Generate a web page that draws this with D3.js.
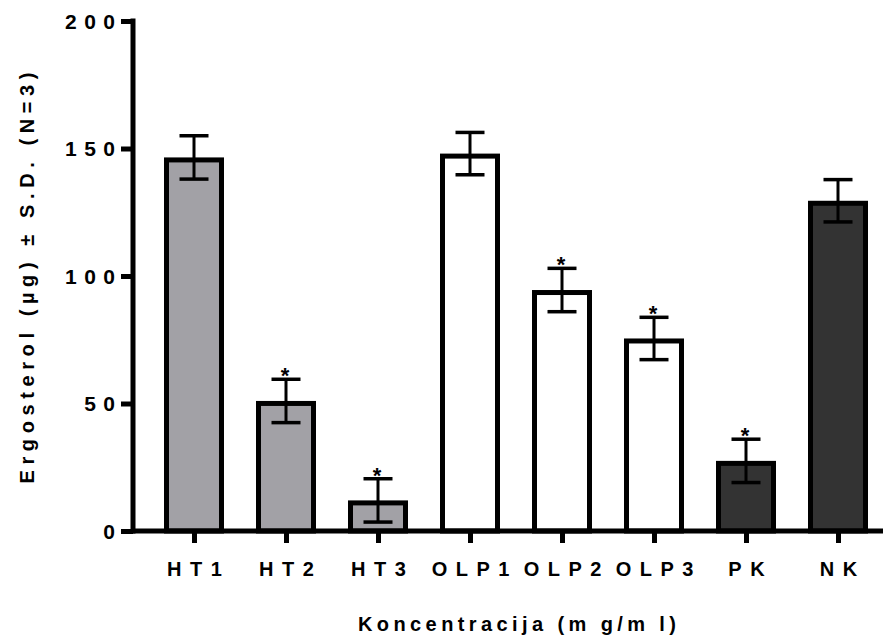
<!DOCTYPE html>
<html><head><meta charset="utf-8">
<script src="https://cdn.jsdelivr.net/npm/d3@7"></script>
<style>body{margin:0;background:#fff}svg text{font-family:"Liberation Sans",Arial,sans-serif;font-weight:bold;fill:#000}</style>
</head><body><svg id="c" width="894" height="639"></svg>
<script>
const categories = ["HT1","HT2","HT3","OLP1","OLP2","OLP3","PK","NK"];
const means = [146.5, 51, 12, 148, 94.5, 75.5, 27.5, 129.5];
const sds = [8.5, 8.5, 8.5, 8.3, 8.5, 8.3, 8.5, 8.3];
const significant = [false, true, true, false, true, true, true, false];
const groups = ["HT","HT","HT","OLP","OLP","OLP","K","K"];
const yTicks = [0, 50, 100, 150, 200];

const fills = {HT:"#a2a1a6", OLP:"#ffffff", K:"#333333"};
const svg = d3.select("#c");
const x = d3.scalePoint().domain(categories).range([194, 838]);
const y = d3.scaleLinear().domain([0, 200]).range([531, 21]);
const barW = 60, sw = 5, capW = 29;

// bars (border drawn inside the bar, as in GraphPad)
svg.selectAll("rect.bar").data(categories).join("rect")
  .attr("x", d => x(d) - barW/2 + sw/2)
  .attr("y", (d,i) => y(means[i]) + sw/2)
  .attr("width", barW - sw)
  .attr("height", (d,i) => y(0) - y(means[i]) - sw/2)
  .attr("fill", (d,i) => fills[groups[i]])
  .attr("stroke", "#000").attr("stroke-width", sw);

// error bars
const eb = svg.selectAll("g.eb").data(categories).join("g");
eb.append("line").attr("x1", d => x(d)).attr("x2", d => x(d))
  .attr("y1", (d,i) => y(means[i] + sds[i])).attr("y2", (d,i) => y(means[i] - sds[i]))
  .attr("stroke", "#000").attr("stroke-width", 3);
eb.append("line").attr("x1", d => x(d) - capW/2).attr("x2", d => x(d) + capW/2)
  .attr("y1", (d,i) => y(means[i] + sds[i])).attr("y2", (d,i) => y(means[i] + sds[i]))
  .attr("stroke", "#000").attr("stroke-width", 3.5);
eb.append("line").attr("x1", d => x(d) - capW/2).attr("x2", d => x(d) + capW/2)
  .attr("y1", (d,i) => y(means[i] - sds[i])).attr("y2", (d,i) => y(means[i] - sds[i]))
  .attr("stroke", "#000").attr("stroke-width", 3.5);

// asterisks
svg.selectAll("text.star").data(categories.filter((d,i) => significant[i])).join("text")
  .attr("x", d => x(d) - 1)
  .attr("y", d => { const i = categories.indexOf(d); return y(means[i] + sds[i]) + 4; })
  .attr("text-anchor", "middle").style("font-size", "22px").text("*");

// y axis
const yAxis = svg.append("g").attr("transform", "translate(133,0)")
  .call(d3.axisLeft(y).tickValues(yTicks).tickSize(12).tickSizeOuter(0));
yAxis.select(".domain").attr("stroke-width", 5).attr("d", `M0,${y(200)-2.5}V${y(0)+2.5}`);
yAxis.selectAll(".tick line").attr("stroke-width", 5);
yAxis.selectAll(".tick text").attr("x", -18 + 7.5).attr("dy", "0.35em")
  .style("font-size", "21px").style("letter-spacing", "7.5px");

// x axis
const xAxis = svg.append("g").attr("transform", `translate(0,${y(0)})`)
  .call(d3.axisBottom(x).tickSize(12).tickSizeOuter(0));
xAxis.select(".domain").attr("stroke-width", 5).attr("d", "M131,0H883");
xAxis.selectAll(".tick line").attr("stroke-width", 5).attr("y1", 2);
xAxis.selectAll(".tick text").attr("y", 45).attr("dy", 0).attr("dx", 4.25)
  .style("font-size", "20px").style("letter-spacing", "8.5px");

// titles
svg.append("text").attr("x", 517 + 2.2).attr("y", 631).attr("text-anchor", "middle")
  .style("font-size", "20px").style("letter-spacing", "4.4px")
  .text("Koncentracija (m g/m l)");
svg.append("text").attr("transform", "translate(34,278) rotate(-90)").attr("text-anchor", "middle")
  .attr("dx", 2.8)
  .style("font-size", "20px").style("letter-spacing", "5.6px")
  .text("Ergosterol (µg) ± S.D. (N=3)");
</script></body></html>
